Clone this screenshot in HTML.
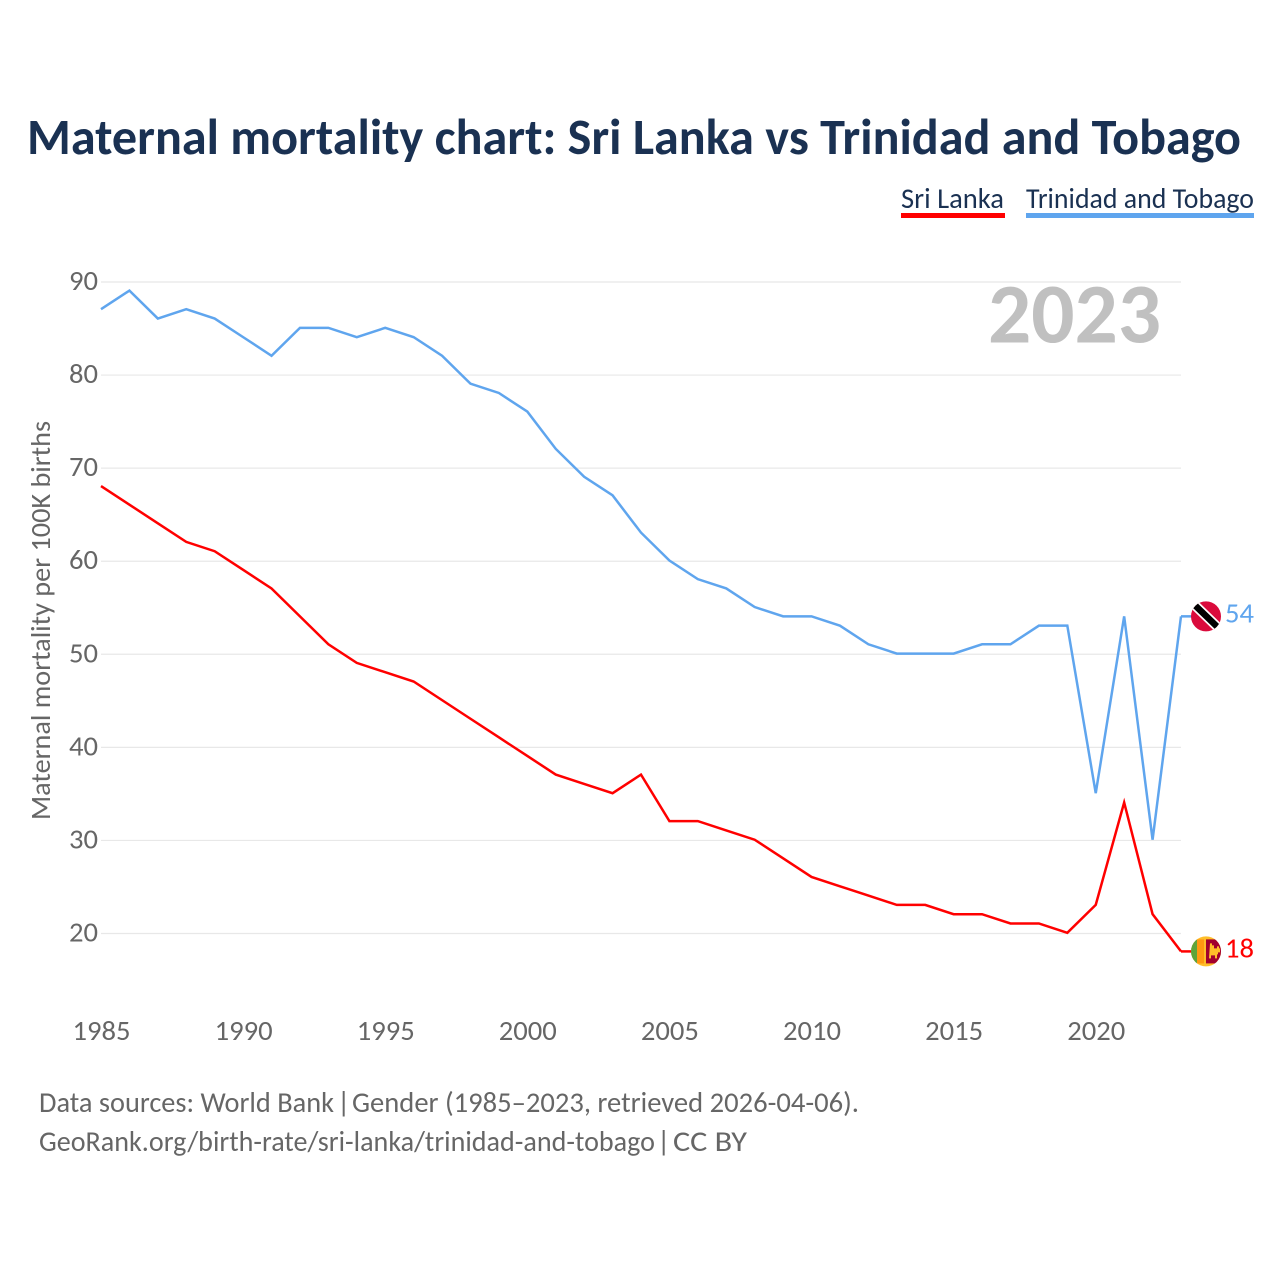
<!DOCTYPE html>
<html lang="en">
<head>
<meta charset="utf-8">
<title>Maternal mortality chart: Sri Lanka vs Trinidad and Tobago</title>
<style>
html,body{margin:0;padding:0;background:#fff}
svg{display:block}
text{font-family:"Carlito","Liberation Sans",sans-serif}
</style>
</head>
<body>
<svg id="chart" xmlns="http://www.w3.org/2000/svg" width="1280" height="1280" viewBox="0 0 1280 1280">
  <rect width="1280" height="1280" fill="#fff"/>
  <text x="27" y="154" font-size="51" font-weight="700" fill="#1a3152" textLength="1214" lengthAdjust="spacingAndGlyphs">Maternal mortality chart: Sri Lanka vs Trinidad and Tobago</text>
  <g>
    <g>
      <text x="901" y="208" font-size="29" fill="#1a3152" textLength="103" lengthAdjust="spacingAndGlyphs">Sri Lanka</text>
      <rect x="901" y="213" width="104" height="5" fill="#ff0000"/>
    </g>
    <g>
      <text x="1026" y="208" font-size="29" fill="#1a3152" textLength="228" lengthAdjust="spacingAndGlyphs">Trinidad and Tobago</text>
      <rect x="1026" y="213" width="228" height="5" fill="#5fa5ee"/>
    </g>
  </g>
  <g id="grid"></g>
  <g id="yticks"></g>
  <g id="xticks"></g>
  <text transform="translate(50,820) rotate(-90)" font-size="28" fill="#666666" textLength="399" lengthAdjust="spacingAndGlyphs">Maternal mortality per 100K births</text>
  <text id="year" x="1161" y="342.5" font-size="85" font-weight="700" fill="#c0c0c0" text-anchor="end" textLength="173" lengthAdjust="spacingAndGlyphs">2023</text>
  <g id="series"></g>
  <defs>
    <clipPath id="flag-clip-tt"><circle cx="1206" cy="616" r="15"/></clipPath>
    <clipPath id="flag-clip-lk"><circle cx="1206" cy="951" r="15"/></clipPath>
  </defs>
  <g id="flag-tt" clip-path="url(#flag-clip-tt)">
    <rect x="1190" y="600" width="34" height="32" fill="#da0b3c"/>
    <line x1="1192" y1="602" x2="1221" y2="630" stroke="#fff" stroke-width="10"/>
    <line x1="1192" y1="602" x2="1221" y2="630" stroke="#000" stroke-width="6.5"/>
  </g>
  <g id="flag-lk" clip-path="url(#flag-clip-lk)">
    <rect x="1190" y="935" width="34" height="33" fill="#ffbe29"/>
    <rect x="1190" y="939" width="7" height="24" fill="#5ea43a"/>
    <rect x="1197" y="939" width="7" height="24" fill="#ff9811"/>
    <rect x="1206" y="939" width="16" height="24" fill="#a2002e"/>
    <path d="M1210 943h2v2h2v3h3v-2h2v2h1v4h-2v2h-1v4h-2v-3h-4v3h-2z" fill="#ffbe29"/>
  </g>
  <text id="label-tt" x="1225" y="622" font-size="28" fill="#5fa5ee" textLength="29" lengthAdjust="spacingAndGlyphs"></text>
  <text id="label-lk" x="1225" y="957" font-size="28" fill="#ff0000" textLength="29" lengthAdjust="spacingAndGlyphs"></text>
  <g>
    <text x="39" y="1112" font-size="29" fill="#666666" textLength="295" lengthAdjust="spacingAndGlyphs">Data sources: World Bank</text>
    <text x="337" y="1112" font-size="29" fill="#666666">|</text>
    <text x="352" y="1112" font-size="29" fill="#666666" textLength="507" lengthAdjust="spacingAndGlyphs">Gender (1985–2023, retrieved 2026-04-06).</text>
  </g>
  <g>
    <text x="39" y="1151" font-size="29" fill="#666666" textLength="616" lengthAdjust="spacingAndGlyphs">GeoRank.org/birth-rate/sri-lanka/trinidad-and-tobago</text>
    <text x="657" y="1151" font-size="29" fill="#666666">|</text>
    <text x="673" y="1151" font-size="29" fill="#666666" textLength="74" lengthAdjust="spacingAndGlyphs">CC BY</text>
  </g>
</svg>
<script>
const years = [1985,1986,1987,1988,1989,1990,1991,1992,1993,1994,1995,1996,1997,1998,1999,2000,2001,2002,2003,2004,2005,2006,2007,2008,2009,2010,2011,2012,2013,2014,2015,2016,2017,2018,2019,2020,2021,2022,2023];
const sriLanka = [68,66,64,62,61,59,57,54,51,49,48,47,45,43,41,39,37,36,35,37,32,32,31,30,28,26,25,24,23,23,22,22,21,21,20,23,34,22,18];
const trinidadTobago = [87,89,86,87,86,84,82,85,85,84,85,84,82,79,78,76,72,69,67,63,60,58,57,55,54,54,53,51,50,50,50,51,51,53,53,35,54,30,54];
const yTickValues = [20,30,40,50,60,70,80,90];
const xTickValues = [1985,1990,1995,2000,2005,2010,2015,2020];

const NS = 'http://www.w3.org/2000/svg';
function xScale(year){ return 101 + (year - 1985) * (1181 - 101) / (2023 - 1985); }
function yScale(v){ return 933.5 - (v - 20) * (933.5 - 282) / (90 - 20); }
function make(tag, attrs, parent){
  const el = document.createElementNS(NS, tag);
  for (const k in attrs) el.setAttribute(k, attrs[k]);
  parent.appendChild(el);
  return el;
}
const grid = document.getElementById('grid');
const yticks = document.getElementById('yticks');
const xticks = document.getElementById('xticks');
const seriesGroup = document.getElementById('series');
const lineOffset = -0.7;

yTickValues.forEach(function(v){
  const line = make('line', {x1:101, x2:1181, y1:yScale(v), y2:yScale(v), stroke:'#e8e8e8', 'stroke-width':1.2}, grid);
  
  
  const t = make('text', {x:98, y:yScale(v) + 8, 'font-size':28, fill:'#666666', 'text-anchor':'end', textLength:29, lengthAdjust:'spacingAndGlyphs'}, yticks);
  
  
  t.textContent = v;
});
xTickValues.forEach(function(y){
  const t = make('text', {x:xScale(y) + 0.5, y:1040, 'font-size':28, fill:'#666666', 'text-anchor':'middle', textLength:58, lengthAdjust:'spacingAndGlyphs'}, xticks);
  
  
  t.textContent = y;
});
function drawLine(values, color, name){
  const pts = values.map(function(v, i){ return xScale(years[i]).toFixed(2) + ',' + (yScale(v) + lineOffset).toFixed(2); }).join(' ');
  const p = make('polyline', {points:pts, fill:'none', stroke:color, 'stroke-width':2.5, 'stroke-linejoin':'miter'}, seriesGroup);
  
  
}
drawLine(trinidadTobago, '#5fa5ee', 'line-trinidad-and-tobago');
drawLine(sriLanka, '#ff0000', 'line-sri-lanka');

function placeEnd(values, labelId, flagId, baseY){
  const last = values[values.length - 1];
  const yPos = yScale(last) + lineOffset;
  document.getElementById(labelId).textContent = last;
  document.getElementById(labelId).setAttribute('y', (yPos + 6).toFixed(1));
  const line = make('line', {x1:1181, x2:1192, y1:yPos, y2:yPos, stroke: labelId === 'label-tt' ? '#5fa5ee' : '#ff0000', 'stroke-width':2.5}, seriesGroup);
  
  
  document.getElementById(flagId).setAttribute('transform', 'translate(0,' + (yPos - baseY).toFixed(1) + ')');
}
placeEnd(trinidadTobago, 'label-tt', 'flag-tt', 616);
placeEnd(sriLanka, 'label-lk', 'flag-lk', 951);
</script>
</body>
</html>
